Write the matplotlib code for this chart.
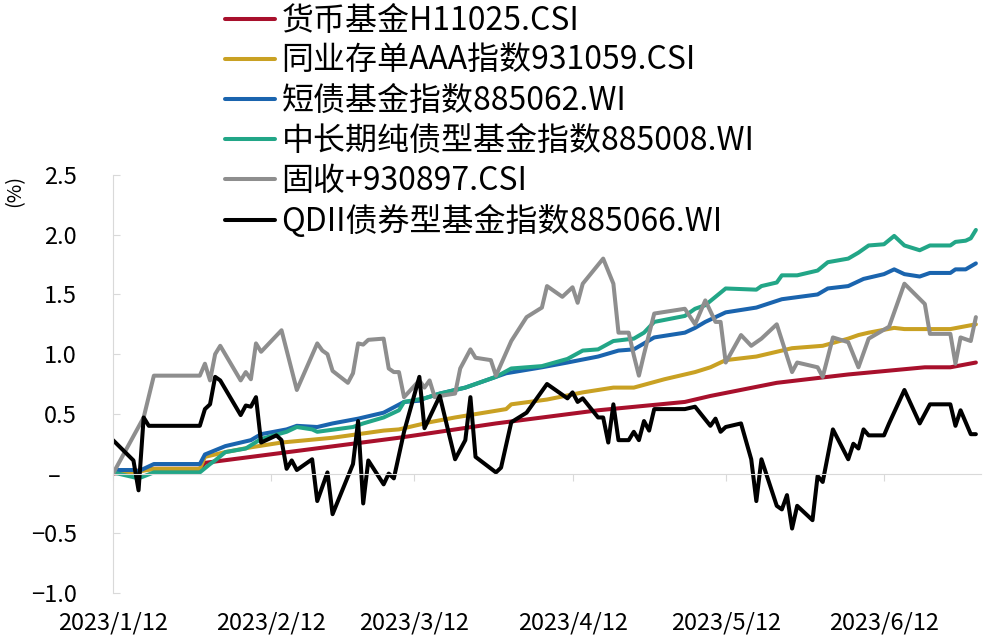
import matplotlib
matplotlib.use('Agg')
import matplotlib.pyplot as plt
import matplotlib.ticker as mticker
import pandas as pd

plt.rcParams['font.family'] = ['Noto Sans CJK SC', 'DejaVu Sans']

# 数据（从图上读取的拐点，单位 %）
red_dates = ["1/12", "1/20", "1/29", "1/30", "3/9", "3/28", "4/17", "5/4", "5/9", "5/22", "6/5", "6/20", "6/25", "6/30"]
red_vals = [0.00, 0.04, 0.04, 0.09, 0.30, 0.42, 0.53, 0.60, 0.65, 0.76, 0.83, 0.89, 0.89, 0.93]

gold_dates = ["1/12", "1/16", "1/20", "1/29", "1/30", "2/3", "2/8", "2/14", "2/24", "3/6", "3/9", "3/15",
              "3/20", "3/30", "3/31", "4/7", "4/14", "4/20", "4/24", "4/30", "5/6", "5/9", "5/12", "5/18",
              "5/22", "5/25", "5/31", "6/5", "6/7", "6/9", "6/14", "6/16", "6/25", "6/30"]
gold_vals = [0.02, 0.01, 0.04, 0.04, 0.14, 0.18, 0.22, 0.26, 0.30, 0.36, 0.37, 0.43,
             0.47, 0.54, 0.58, 0.62, 0.68, 0.72, 0.72, 0.79, 0.85, 0.89, 0.95, 0.98,
             1.02, 1.05, 1.07, 1.13, 1.16, 1.18, 1.22, 1.21, 1.21, 1.25]

blue_dates = ["1/12", "1/16", "1/17", "1/20", "1/29", "1/30", "2/3", "2/8", "2/10", "2/15", "2/17", "2/21",
              "2/24", "3/1", "3/6", "3/10", "3/13", "3/14", "3/17", "3/22", "3/30", "4/6", "4/11", "4/17",
              "4/21", "4/24", "4/26", "4/28", "5/4", "5/6", "5/8", "5/10", "5/12", "5/18", "5/23", "5/30",
              "6/1", "6/5", "6/8", "6/12", "6/14", "6/16", "6/19", "6/21", "6/25", "6/26", "6/28", "6/30"]
blue_vals = [0.03, 0.03, 0.02, 0.08, 0.08, 0.16, 0.23, 0.28, 0.33, 0.37, 0.40, 0.39,
             0.42, 0.46, 0.51, 0.60, 0.61, 0.63, 0.67, 0.72, 0.84, 0.89, 0.93, 0.98,
             1.03, 1.04, 1.09, 1.14, 1.18, 1.22, 1.27, 1.31, 1.35, 1.39, 1.46, 1.50,
             1.55, 1.57, 1.63, 1.67, 1.71, 1.67, 1.65, 1.68, 1.68, 1.71, 1.71, 1.76]

teal_dates = ["1/12", "1/17", "1/20", "1/29", "1/31", "2/1", "2/3", "2/7", "2/10", "2/15", "2/17", "2/20",
              "2/21", "2/28", "3/2", "3/6", "3/9", "3/10", "3/14", "3/17", "3/22", "3/28", "3/31", "4/6",
              "4/11", "4/14", "4/17", "4/20", "4/24", "4/26", "4/28", "5/4", "5/6", "5/8", "5/10", "5/12",
              "5/18", "5/19", "5/22", "5/23", "5/26", "5/30", "6/1", "6/5", "6/7", "6/9", "6/12", "6/14",
              "6/16", "6/19", "6/21", "6/25", "6/26", "6/28", "6/29", "6/30"]
teal_vals = [0.01, -0.04, 0.01, 0.01, 0.08, 0.11, 0.18, 0.21, 0.29, 0.35, 0.39, 0.37,
             0.35, 0.39, 0.42, 0.47, 0.53, 0.60, 0.63, 0.67, 0.72, 0.81, 0.88, 0.90,
             0.96, 1.03, 1.04, 1.11, 1.13, 1.18, 1.27, 1.32, 1.38, 1.41, 1.48, 1.55,
             1.54, 1.57, 1.60, 1.66, 1.66, 1.70, 1.77, 1.80, 1.85, 1.91, 1.92, 1.99,
             1.91, 1.87, 1.91, 1.91, 1.94, 1.95, 1.97, 2.04]

gray_dates = ["1/12", "1/18", "1/20", "1/29", "1/30", "1/31", "2/1", "2/2", "2/6", "2/7", "2/8", "2/9",
              "2/10", "2/14", "2/17", "2/21", "2/22", "2/23", "2/24", "2/27", "2/28", "3/1", "3/2", "3/3",
              "3/6", "3/7", "3/8", "3/9", "3/10", "3/13", "3/14", "3/15", "3/16", "3/17", "3/20", "3/21",
              "3/23", "3/24", "3/27", "3/28", "3/31", "4/3", "4/6", "4/7", "4/10", "4/12", "4/13", "4/14",
              "4/18", "4/20", "4/21", "4/23", "4/24", "4/25", "4/26", "4/28", "5/4", "5/6", "5/8", "5/10",
              "5/11", "5/12", "5/15", "5/17", "5/19", "5/22", "5/25", "5/26", "5/30", "5/31", "6/2", "6/5",
              "6/7", "6/9", "6/13", "6/14", "6/16", "6/20", "6/21", "6/25", "6/26", "6/27", "6/29", "6/30"]
gray_vals = [0.00, 0.47, 0.82, 0.82, 0.92, 0.78, 1.00, 1.07, 0.78, 0.85, 0.79, 1.09,
             1.02, 1.20, 0.70, 1.09, 1.03, 1.00, 0.86, 0.76, 0.84, 1.09, 1.08, 1.12,
             1.13, 0.88, 0.85, 0.85, 0.64, 0.78, 0.72, 0.78, 0.64, 0.65, 0.67, 0.88,
             1.04, 0.97, 0.95, 0.82, 1.11, 1.31, 1.39, 1.57, 1.48, 1.56, 1.43, 1.59,
             1.80, 1.59, 1.18, 1.18, 0.99, 0.82, 1.00, 1.34, 1.38, 1.25, 1.45, 1.27,
             1.27, 0.93, 1.16, 1.07, 1.13, 1.25, 0.85, 0.93, 0.89, 0.81, 1.14, 1.10,
             0.89, 1.13, 1.23, 1.35, 1.59, 1.42, 1.17, 1.17, 0.92, 1.14, 1.11, 1.31]

black_dates = ["1/12", "1/16", "1/17", "1/18", "1/19", "1/29", "1/30", "1/31", "2/1", "2/2", "2/6", "2/7",
               "2/8", "2/9", "2/10", "2/13", "2/14", "2/15", "2/16", "2/17", "2/20", "2/21", "2/23", "2/24",
               "2/28", "3/1", "3/2", "3/3", "3/6", "3/7", "3/8", "3/10", "3/13", "3/14", "3/17", "3/20",
               "3/22", "3/23", "3/24", "3/28", "3/29", "3/31", "4/3", "4/7", "4/11", "4/12", "4/13", "4/14",
               "4/17", "4/18", "4/19", "4/20", "4/21", "4/23", "4/24", "4/25", "4/26", "4/27", "4/28", "5/4",
               "5/6", "5/9", "5/10", "5/11", "5/12", "5/15", "5/17", "5/18", "5/19", "5/22", "5/23", "5/24",
               "5/25", "5/26", "5/29", "5/30", "5/31", "6/2", "6/5", "6/6", "6/7", "6/8", "6/9", "6/12",
               "6/13", "6/16", "6/19", "6/21", "6/25", "6/26", "6/27", "6/29", "6/30"]
black_vals = [0.28, 0.11, -0.14, 0.47, 0.40, 0.40, 0.54, 0.58, 0.81, 0.78, 0.49, 0.57,
              0.56, 0.64, 0.26, 0.32, 0.28, 0.04, 0.11, 0.03, 0.12, -0.23, 0.01, -0.34,
              0.08, 0.44, -0.25, 0.11, -0.09, 0.00, -0.04, 0.35, 0.81, 0.38, 0.65, 0.12,
              0.28, 0.64, 0.14, 0.01, 0.05, 0.43, 0.51, 0.75, 0.63, 0.68, 0.60, 0.63,
              0.47, 0.47, 0.26, 0.58, 0.28, 0.28, 0.35, 0.28, 0.44, 0.36, 0.54, 0.54,
              0.56, 0.40, 0.46, 0.35, 0.39, 0.42, 0.12, -0.23, 0.12, -0.27, -0.30, -0.18,
              -0.46, -0.27, -0.39, -0.02, -0.07, 0.37, 0.12, 0.25, 0.21, 0.37, 0.32, 0.32,
              0.42, 0.70, 0.42, 0.58, 0.58, 0.40, 0.53, 0.33, 0.33]

labels = ['货币基金H11025.CSI', '同业存单AAA指数931059.CSI', '短债基金指数885062.WI',
          '中长期纯债型基金指数885008.WI', '固收+930897.CSI', 'QDII债券型基金指数885066.WI']
colors = ['#A8102C', '#C9A123', '#1A64AE', '#22A687', '#8E8E8E', '#000000']
tick_dates = ["1/12", "2/12", "3/12", "4/12", "5/12", "6/12"]


def to_dt(days):
    return pd.to_datetime(["2023/" + d for d in days])


series = [(red_dates, red_vals), (gold_dates, gold_vals), (blue_dates, blue_vals),
          (teal_dates, teal_vals), (gray_dates, gray_vals), (black_dates, black_vals)]

fig = plt.figure(figsize=(9.88, 6.35), dpi=100)
ax = fig.add_axes([0.1144, 0.0661, 0.8785, 0.6583])

for (d, v), lab, c in zip(series, labels, colors):
    ax.plot(to_dt(d), v, color=c, lw=2.9, label=lab, solid_joinstyle='round', solid_capstyle='round')

ax.set_xlim(pd.Timestamp('2023-01-12'), pd.Timestamp('2023-07-01'))
ax.set_ylim(-1.0, 2.5)
ax.set_yticks([-1.0, -0.5, 0, 0.5, 1.0, 1.5, 2.0, 2.5])


def yfmt(v, pos):
    if abs(v) < 1e-9:
        return '–   '
    return f'{v:.1f}'.replace('-', '−')


ax.yaxis.set_major_formatter(mticker.FuncFormatter(yfmt))

# 坐标轴样式
axis_gray = '#D9D9D9'
for s in ['top', 'right']:
    ax.spines[s].set_visible(False)
ax.spines['left'].set_color(axis_gray)
ax.spines['bottom'].set_color(axis_gray)
ax.spines['bottom'].set_position(('data', 0))
ax.tick_params(axis='y', direction='in', length=5, color=axis_gray, labelsize=17, pad=26)
ticks = to_dt(tick_dates)
ax.set_xticks(ticks)
ax.tick_params(axis='x', direction='out', length=5, color=axis_gray, labelbottom=False)

# 日期标签放在底部
sec = ax.secondary_xaxis('bottom')
sec.spines['bottom'].set_visible(False)
sec.set_xticks(ticks)
sec.set_xticklabels([f'2023/{d}' for d in tick_dates])
sec.tick_params(length=0, labelsize=17, pad=13)

fig.text(15 / 988, 1 - 191 / 635, '(%)', rotation=90, ha='center', va='center', fontsize=14.5)

fig.legend(loc='upper left', bbox_to_anchor=(225 / 988, 1 - 5 / 635), frameon=False, fontsize=23,
           borderpad=0, borderaxespad=0, handlelength=1.55, handletextpad=0.22, labelspacing=0.25)

fig.savefig('out.png', dpi=100)
